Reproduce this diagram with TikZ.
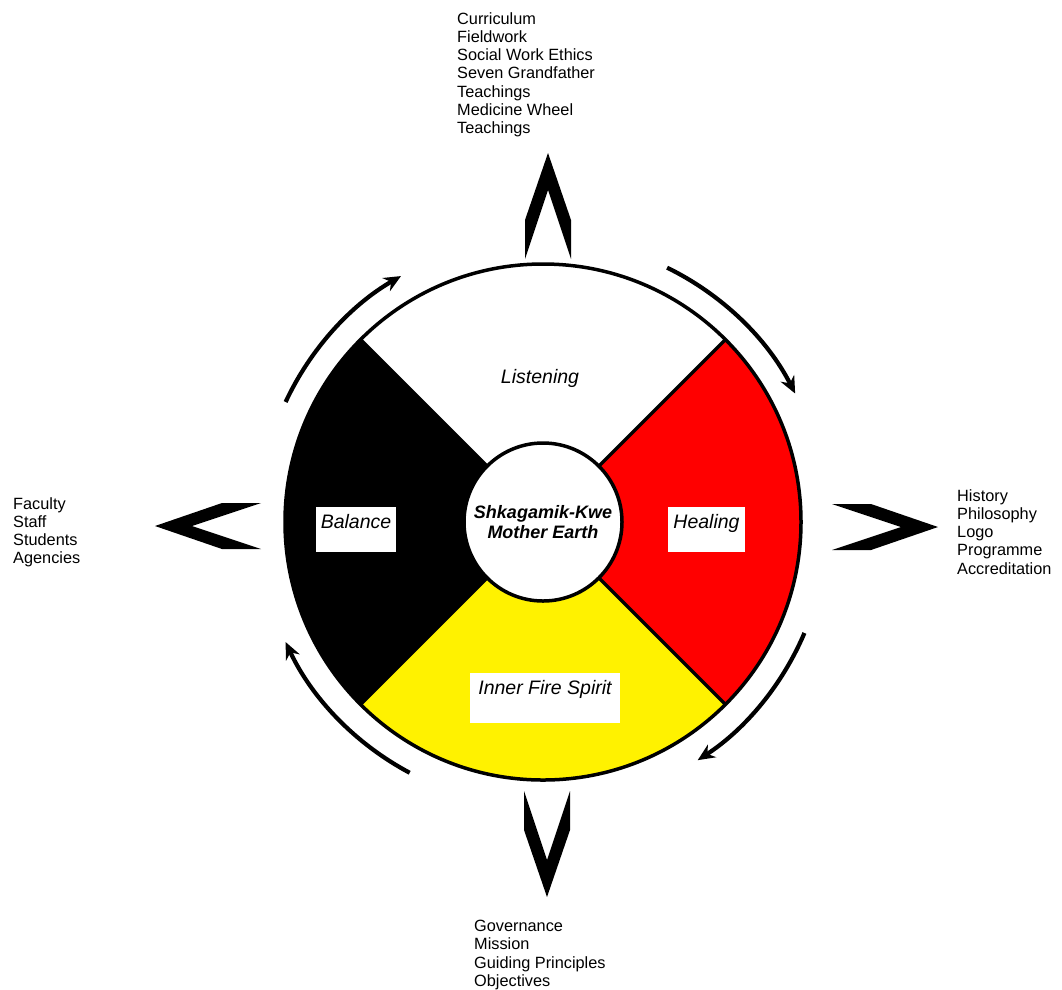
\documentclass[tikz,border=0pt]{standalone}
\usepackage{fontspec}
\setmainfont{Liberation Sans}
\usetikzlibrary{arrows.meta,calc}

\begin{document}
\begin{tikzpicture}[x=1pt, y=1pt,
    rim/.style={line width=3.5pt},
    cyclearrow/.style={line width=4.2pt, -{Stealth[length=17pt, width=15pt]}},
    labelbox/.style={fill=white, inner sep=0pt},
    sectorlabel/.style={font=\fontsize{19.5}{22}\selectfont\itshape, inner sep=0pt},
    blocktext/.style={font=\fontsize{16.3}{18.3}\selectfont, align=left, inner sep=0pt, anchor=north west},
    chevron/.pic={\fill (0,0) -- (23,-67) -- (23,-106) -- (0,-37) -- (-23,-106) -- (-23,-67) -- cycle;}]
  \useasboundingbox (0,0) rectangle (1062,-989);
  \coordinate (hub) at (543,-522);

  % the four directions of the wheel
  \fill[white]  (hub) -- ++(45:258)  arc[start angle=45,  end angle=135, radius=258] -- cycle;
  \fill[black]  (hub) -- ++(135:258) arc[start angle=135, end angle=225, radius=258] -- cycle;
  \fill[yellow] (hub) -- ++(225:258) arc[start angle=225, end angle=315, radius=258] -- cycle;
  \fill[red]    (hub) -- ++(-45:258) arc[start angle=-45, end angle=45,  radius=258] -- cycle;
  \foreach \a in {45,135,225,315}
    \draw[rim] (hub) -- ++(\a:258);
  \draw[rim] (hub) circle (258);

  \node[circle, draw, rim, fill=white, minimum size=158pt, inner sep=0pt, align=center,
        font=\fontsize{18}{19.5}\selectfont\bfseries\itshape] (earth) at (hub)
        {Shkagamik-Kwe\\Mother Earth};

  % labels
  \node[sectorlabel] (listening) at (540,-378) {Listening};
  \node[labelbox, minimum width=80pt, minimum height=45pt] (balancebox) at (356,-529.5) {};
  \node[sectorlabel, anchor=north] (balance) at ([yshift=-7pt]balancebox.north) {Balance};
  \node[labelbox, minimum width=77pt, minimum height=45pt] (healingbox) at (706.5,-529.5) {};
  \node[sectorlabel, anchor=north] (healing) at ([yshift=-7pt]healingbox.north) {Healing};
  \node[labelbox, minimum width=150pt, minimum height=50pt] (firebox) at (545,-698) {};
  \node[sectorlabel, anchor=north] (fire) at ([yshift=-7pt]firebox.north) {Inner Fire Spirit};

  % turning of the wheel
  \draw[cyclearrow] ($(hub)+(155:284)$) arc[start angle=155, end angle=120, radius=284];
  \draw[cyclearrow] ($(hub)+(64:283)$)  arc[start angle=64,  end angle=27,  radius=283];
  \draw[cyclearrow] ($(hub)+(-23:284)$) arc[start angle=-23, end angle=-57, radius=284];
  \draw[cyclearrow] ($(hub)+(-118:284)$) arc[start angle=-118, end angle=-155, radius=284];

  % chevrons
  \pic (north) at (548,-153) {chevron};
  \pic[rotate=180] (south) at (547,-897) {chevron};
  \pic[rotate=90] (west) at (155,-526) {chevron};
  \pic[rotate=-90] (east) at (938,-527) {chevron};

  \node[blocktext] (curriculum) at (457,-12)
    {Curriculum\\Fieldwork\\Social Work Ethics\\Seven Grandfather\\Teachings\\Medicine Wheel\\Teachings};
  \node[blocktext] (faculty) at (13,-497) {Faculty\\Staff\\Students\\Agencies};
  \node[blocktext] (history) at (957,-489) {History\\Philosophy\\Logo\\Programme\\Accreditation};
  \node[blocktext] (governance) at (474,-920) {Governance\\Mission\\Guiding Principles\\Objectives};
\end{tikzpicture}
\end{document}
